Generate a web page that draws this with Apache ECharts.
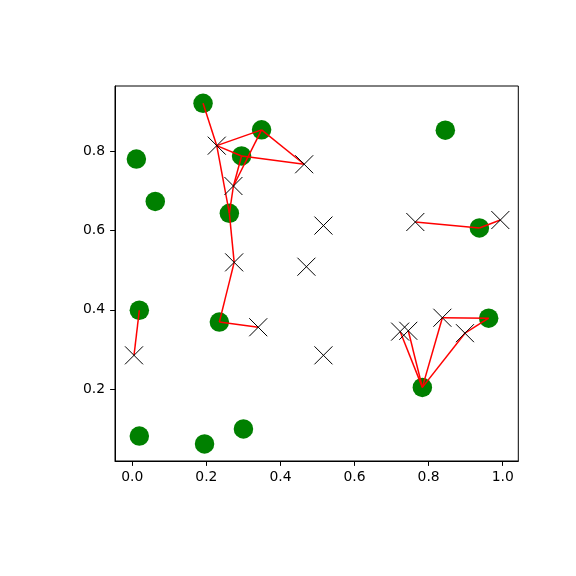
<!DOCTYPE html>
<html>
<head>
<meta charset="utf-8">
<script src="https://cdn.jsdelivr.net/npm/echarts@6/dist/echarts.min.js"></script>
<style>html,body{margin:0;padding:0;background:#fff}#c{width:576px;height:576px}</style>
</head>
<body>
<div id="c"></div>
<script>
// Green points
const greenX = [0.191, 0.349, 0.011, 0.295, 0.062, 0.262, 0.019, 0.235, 0.019, 0.195, 0.300, 0.845, 0.937, 0.962, 0.783];
const greenY = [0.922, 0.855, 0.781, 0.789, 0.674, 0.644, 0.399, 0.369, 0.081, 0.061, 0.099, 0.854, 0.607, 0.379, 0.204];
// Cross points
const crossX = [0.228, 0.464, 0.273, 0.275, 0.516, 0.470, 0.340, 0.0046, 0.516, 0.764, 0.9935, 0.723, 0.745, 0.837, 0.898];
const crossY = [0.815, 0.768, 0.713, 0.520, 0.613, 0.509, 0.356, 0.285, 0.285, 0.622, 0.627, 0.345, 0.347, 0.380, 0.341];
// Edges: [green index, cross index]
const edges = [[0,0],[1,0],[1,1],[1,2],[3,0],[3,1],[3,2],[5,0],[5,2],[5,3],[7,3],[7,6],[6,7],
               [14,11],[14,12],[14,13],[14,14],[13,14],[13,13],[12,9],[12,10]];
const xTicks = [0, 0.2, 0.4, 0.6, 0.8, 1.0];
const yTicks = [0.2, 0.4, 0.6, 0.8];

const chart = echarts.init(document.getElementById('c'));
const font = {fontFamily: 'DejaVu Sans', fontSize: 13.9, color: '#000'};
chart.setOption({
  animation: false,
  backgroundColor: '#fff',
  grid: {left: 115, top: 86, right: 57.7, bottom: 115, show: true, borderColor: '#000', borderWidth: 1, backgroundColor: 'transparent'},
  xAxis: {
    type: 'value', min: -0.0467, max: 1.042,
    splitLine: {show: false},
    axisLine: {show: true, onZero: false, lineStyle: {color: '#000', width: 1}},
    axisTick: {show: true, length: 4.9, lineStyle: {color: '#000'}, customValues: xTicks},
    axisLabel: Object.assign({customValues: xTicks, margin: 9, formatter: v => v.toFixed(1)}, font)
  },
  yAxis: {
    type: 'value', min: 0.0179, max: 0.9658,
    splitLine: {show: false},
    axisLine: {show: true, onZero: false, lineStyle: {color: '#000', width: 1}},
    axisTick: {show: true, length: 4.9, lineStyle: {color: '#000'}, customValues: yTicks},
    axisLabel: Object.assign({customValues: yTicks, margin: 10, formatter: v => v.toFixed(1)}, font)
  },
  series: [
    {
      type: 'scatter', z: 1,
      data: greenX.map((x, i) => [x, greenY[i]]),
      symbol: 'circle', symbolSize: 19.5,
      itemStyle: {color: '#008000', opacity: 1}
    },
    {
      type: 'lines', coordinateSystem: 'cartesian2d', z: 2,
      data: edges.map(([g, c]) => ({coords: [[greenX[g], greenY[g]], [crossX[c], crossY[c]]]})),
      lineStyle: {color: '#ff0000', width: 1.5, opacity: 1}
    },
    {
      type: 'scatter', z: 3,
      data: crossX.map((x, i) => [x, crossY[i]]),
      symbol: 'path://M0,0L10,10M10,0L0,10', symbolSize: 18,
      itemStyle: {color: 'transparent', borderColor: '#000', borderWidth: 1, opacity: 1}
    }
  ]
});
</script>
</body>
</html>
